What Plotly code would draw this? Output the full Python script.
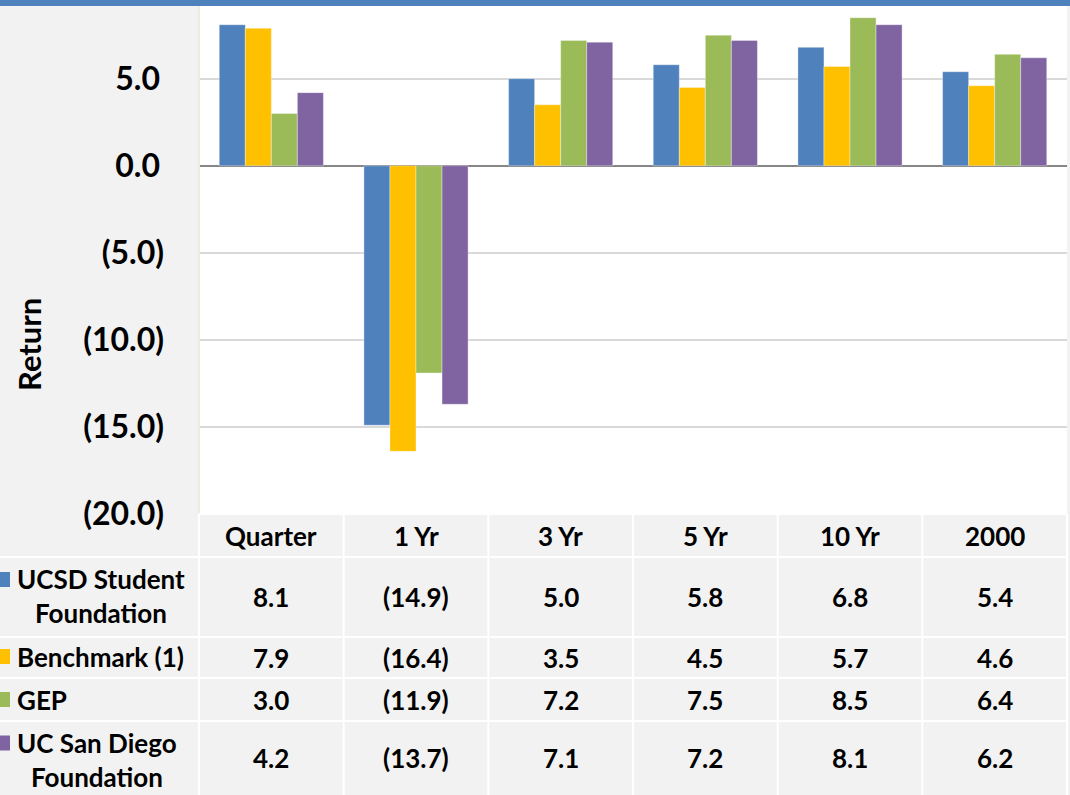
import plotly.graph_objects as go

# ---------------- data ----------------
categories = ["Quarter", "1 Yr", "3 Yr", "5 Yr", "10 Yr", "2000"]
series_names = ["UCSD Student Foundation", "Benchmark (1)", "GEP", "UC San Diego Foundation"]
series_labels = [["UCSD Student", "Foundation"], ["Benchmark (1)"], ["GEP"], ["UC San Diego", "Foundation"]]
ucsd_student = [8.1, -14.9, 5.0, 5.8, 6.8, 5.4]
benchmark = [7.9, -16.4, 3.5, 4.5, 5.7, 4.6]
gep = [3.0, -11.9, 7.2, 7.5, 8.5, 6.4]
uc_san_diego = [4.2, -13.7, 7.1, 7.2, 8.1, 6.2]
y_ticks = [-20, -15, -10, -5, 0, 5]
axis_title = "Return"

series_values = [ucsd_student, benchmark, gep, uc_san_diego]
colors = ["#4f81bd", "#ffc000", "#9bbb59", "#8064a2"]

W, H = 1070, 795
FONT = "Lato"


def px(x):
    return x / W


def py(y):
    return 1 - y / H


def fmt(v):
    return f"({abs(v):.1f})" if v < 0 else f"{v:.1f}"


PLOT_L, PLOT_R = 199, 1067
PLOT_T, PLOT_B = 0, 514
Y_MIN, Y_MAX = -20, 9.52

fig = go.Figure()
for name, vals, col in zip(series_names, series_values, colors):
    fig.add_trace(go.Bar(
        x=categories, y=vals, name=name,
        marker=dict(color=col, line=dict(color="rgba(255,255,255,0.35)", width=1)),
        showlegend=False,
    ))

shapes = []
# top blue band
shapes.append(dict(type="rect", xref="paper", yref="paper", x0=0, x1=1, y0=py(6), y1=1,
                   fillcolor="#4f81bd", line=dict(width=0), layer="above"))
# faint left edge of plot area
shapes.append(dict(type="line", xref="paper", yref="paper", x0=px(PLOT_L), x1=px(PLOT_L),
                   y0=py(PLOT_B), y1=py(6), line=dict(color="#eeece1", width=2)))

# table lines
WHITE = dict(color="white", width=2)
col_w = (PLOT_R - PLOT_L) / len(categories)
row_edges = [557, 637, 678, 721]
shapes.append(dict(type="line", xref="paper", yref="paper", x0=px(PLOT_L), x1=px(PLOT_R),
                   y0=py(PLOT_B), y1=py(PLOT_B), line=WHITE))
for ry in row_edges:
    shapes.append(dict(type="line", xref="paper", yref="paper", x0=0, x1=px(PLOT_R),
                       y0=py(ry), y1=py(ry), line=WHITE))
for i in range(len(categories) + 1):
    cx = PLOT_L + i * col_w
    shapes.append(dict(type="line", xref="paper", yref="paper", x0=px(cx), x1=px(cx),
                       y0=py(PLOT_B), y1=0, line=WHITE))

# legend keys
key_centers = [579.5, 656.5, 699.5, 743]
for col, cy in zip(colors, key_centers):
    shapes.append(dict(type="rect", xref="paper", yref="paper", x0=px(0), x1=px(10),
                       y0=py(cy + 7.5), y1=py(cy - 7.5), fillcolor=col, line=dict(width=0)))

annotations = []
tfont = dict(family=FONT, size=26, color="black", weight="bold")
# header
for i, c in enumerate(categories):
    cx = PLOT_L + (i + 0.5) * col_w
    annotations.append(dict(x=px(cx), y=py(536), xref="paper", yref="paper", text=c,
                            showarrow=False, font=tfont, xanchor="center", yanchor="middle"))
# values
row_centers = [597, 657.5, 699.5, 758]
for vals, rc in zip(series_values, row_centers):
    for i, v in enumerate(vals):
        cx = PLOT_L + (i + 0.5) * col_w
        annotations.append(dict(x=px(cx), y=py(rc), xref="paper", yref="paper", text=fmt(v),
                                showarrow=False, font=tfont, xanchor="center", yanchor="middle"))
# series labels
label_lines_y = [[579, 613], [656.5], [699.5], [743, 777]]
label_centers = [101, None, None, 97]
for lines, ys, cxl in zip(series_labels, label_lines_y, label_centers):
    for t, yy in zip(lines, ys):
        if cxl is None:
            annotations.append(dict(x=px(15), y=py(yy), xref="paper", yref="paper", text=t,
                                    showarrow=False, font=tfont, xanchor="left", yanchor="middle"))
        else:
            annotations.append(dict(x=px(cxl), y=py(yy), xref="paper", yref="paper", text=t,
                                    showarrow=False, font=tfont, xanchor="center", yanchor="middle"))

# axis title
annotations.append(dict(x=px(29), y=py(345), xref="paper", yref="paper", text=axis_title,
                        textangle=-90, showarrow=False,
                        font=dict(family=FONT, size=31, color="black", weight="bold"),
                        xanchor="center", yanchor="middle"))

tick_text = [fmt(v) + ("\u2009" if v >= 0 else "") for v in y_ticks]

fig.update_layout(
    width=W, height=H,
    autosize=False,
    margin=dict(l=0, r=0, t=0, b=0, autoexpand=False),
    paper_bgcolor="#f2f2f2",
    plot_bgcolor="white",
    barmode="group",
    bargap=0.28,
    bargroupgap=0,
    shapes=shapes,
    annotations=annotations,
    xaxis=dict(domain=[px(PLOT_L), px(PLOT_R)], showticklabels=False, showgrid=False,
               zeroline=False, ticks="", range=[-0.5, 5.5], fixedrange=True,
               automargin=False),
    yaxis=dict(domain=[py(PLOT_B), py(PLOT_T)], range=[Y_MIN, Y_MAX],
               tickvals=y_ticks, ticktext=tick_text,
               tickfont=dict(family=FONT, size=32, color="black", weight="bold"),
               showgrid=True, gridcolor="#d9d9d9", gridwidth=2,
               zeroline=True, zerolinecolor="#868686", zerolinewidth=2,
               ticks="", ticklabelstandoff=34, showline=False, fixedrange=True,
               automargin=False),
)

fig.write_html(
    "out.html",
    config={"responsive": False, "displayModeBar": False, "staticPlot": True},
    default_width=f"{W}px",
    default_height=f"{H}px",
    post_script=("document.documentElement.style.margin='0';"
                 "document.body.style.margin='0';"
                 "document.body.style.overflow='hidden';"
                 "document.body.style.background='#f2f2f2';"),
)
